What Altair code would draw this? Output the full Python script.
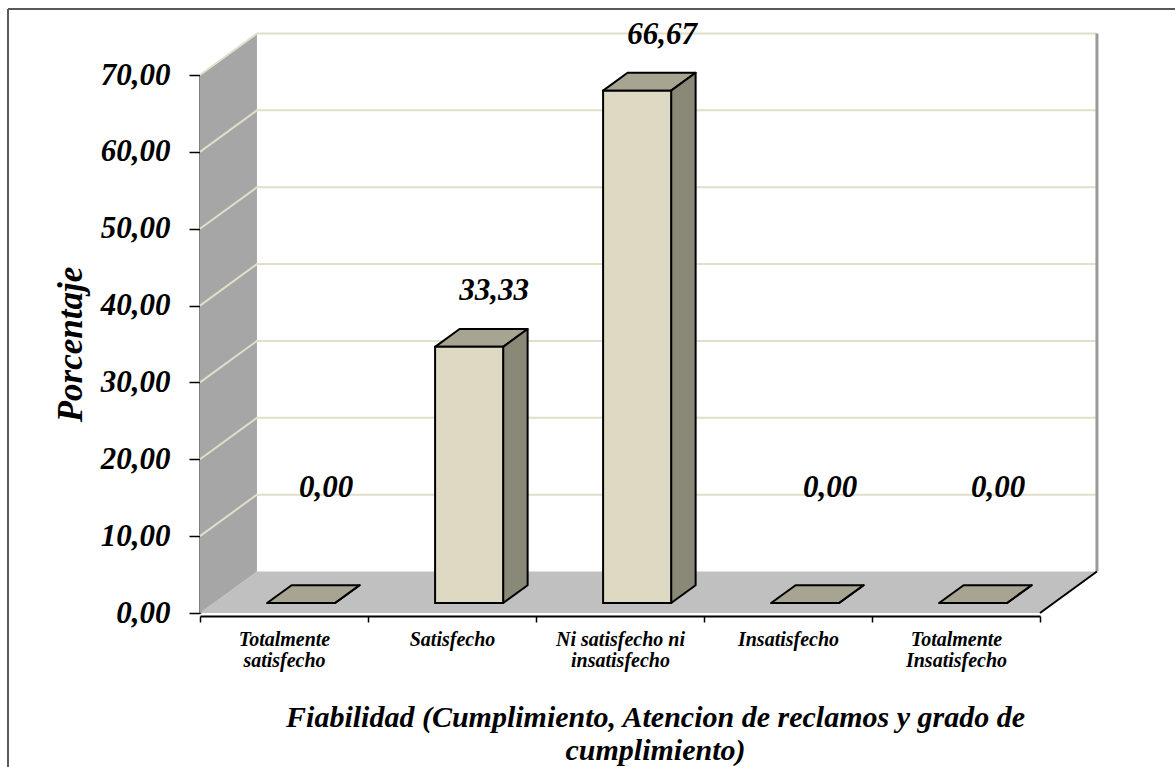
import json
import textwrap

import altair as alt
import pandas as pd

# ---- data -----------------------------------------------------------------
categories = [
    "Totalmente satisfecho",
    "Satisfecho",
    "Ni satisfecho ni insatisfecho",
    "Insatisfecho",
    "Totalmente Insatisfecho",
]
values = [0.00, 33.33, 66.67, 0.00, 0.00]
y_ticks = [0, 10, 20, 30, 40, 50, 60, 70]
x_title = ["Fiabilidad (Cumplimiento, Atencion de reclamos y grado de", "cumplimiento)"]
y_title = "Porcentaje"

# ---- oblique projection used for the 3-D look (data units) -------------------
FLOOR_DX, FLOOR_DY = 0.339, 5.4      # full depth of the floor / walls
BAR_FRONT, BAR_BACK = 0.24, 0.67     # depth fractions of the bar faces
BAR_W = 0.405                        # bar width in category units
BAR_OFFSET = 0.318                   # bar left edge inside its category

FONT = "Liberation Serif"
FRONT_FILL = "#DDD9C3"
SIDE_FILL = "#8A8978"
TOP_FILL = "#A7A591"
WALL_FILL = "#A6A6A6"
FLOOR_FILL = "#C0C0C0"
GRID_COLOR = "#E1DECA"

n = len(categories)
y_max = y_ticks[-1]

XS = alt.Scale(domain=[0, n], nice=False, zero=False)
YS = alt.Scale(domain=[0, y_max], nice=False, zero=False)

wrapped = [textwrap.wrap(c, 16) for c in categories]

XA = alt.Axis(
    values=list(range(n + 1)),
    labelExpr=f"{json.dumps(wrapped)}[datum.value] || ''",
    labelOffset=84,
    labelFont=FONT, labelFontSize=20, labelFontStyle="italic", labelFontWeight="bold",
    labelColor="black", labelLineHeight=21, labelPadding=7,
    labelAlign="center", labelBaseline="top",
    labelOverlap=False, labelBound=False, labelFlush=False,
    tickSize=6, tickColor="black", tickWidth=1.5,
    domainColor="black", domainWidth=2, offset=3, grid=False,
    title=x_title, titleFont=FONT, titleFontSize=30, titleFontStyle="italic",
    titleFontWeight="bold", titleColor="black", titleLineHeight=33,
    titleX=455, titleY=110, titleAlign="center", titleBaseline="alphabetic",
)
YA = alt.Axis(
    values=y_ticks,
    labelExpr="replace(format(datum.value, '.2f'), '.', ',')",
    labelFont=FONT, labelFontSize=31, labelFontStyle="italic", labelFontWeight="bold",
    labelColor="black", labelPadding=19,
    tickSize=11, tickColor="black", tickWidth=1.5,
    domainColor="black", domainWidth=2, grid=False,
    title=y_title, titleFont=FONT, titleFontSize=35, titleFontStyle="italic",
    titleFontWeight="bold", titleColor="black",
    titleX=-130, titleY=269, titleAngle=270, titleAlign="center", titleBaseline="middle",
)


def X(field):
    return alt.X(field, type="quantitative", scale=XS, axis=XA)


def Y(field):
    return alt.Y(field, type="quantitative", scale=YS, axis=YA)


# ---- geometry derived from the values -------------------------------------
bars = pd.DataFrame({"cat": categories, "i": range(n), "value": values})
bars["fx0"] = bars["i"] + BAR_OFFSET + BAR_FRONT * FLOOR_DX
bars["fx1"] = bars["fx0"] + BAR_W
bars["fy0"] = BAR_FRONT * FLOOR_DY
bars["fy1"] = bars["fy0"] + bars["value"]
bars["bx0"] = bars["i"] + BAR_OFFSET + BAR_BACK * FLOOR_DX
bars["bx1"] = bars["bx0"] + BAR_W
bars["by0"] = BAR_BACK * FLOOR_DY
bars["by1"] = bars["by0"] + bars["value"]
bars["label"] = bars["value"].map(lambda v: f"{v:.2f}".replace(".", ","))
bars["lx"] = bars["i"] + 0.75
bars["ly"] = bars["by1"] + bars["value"].map(lambda v: 3.8 if v > 0 else 11.5)

top_faces = pd.concat([
    pd.DataFrame({"cat": bars["cat"], "yy": bars["fy1"], "xa": bars["fx0"], "xb": bars["fx1"]}),
    pd.DataFrame({"cat": bars["cat"], "yy": bars["by1"], "xa": bars["bx0"], "xb": bars["bx1"]}),
])
side_faces = pd.concat([
    pd.DataFrame({"cat": bars["cat"], "xx": bars["fx1"], "ya": bars["fy0"], "yb": bars["fy1"]}),
    pd.DataFrame({"cat": bars["cat"], "xx": bars["bx1"], "ya": bars["by0"], "yb": bars["by1"]}),
])

floor = pd.DataFrame({"yy": [0, FLOOR_DY], "xa": [0, FLOOR_DX], "xb": [n, n + FLOOR_DX]})
side_wall = pd.DataFrame({"xx": [0, FLOOR_DX], "ya": [0, FLOOR_DY], "yb": [y_max, y_max + FLOOR_DY]})
grid = pd.DataFrame([
    {"v": v, "k": k, "gx": gx, "gy": gy}
    for v in y_ticks[1:]
    for k, (gx, gy) in enumerate([(0, v), (FLOOR_DX, v + FLOOR_DY), (n + FLOOR_DX, v + FLOOR_DY)])
])
back_edge = pd.DataFrame({"ex": [n + FLOOR_DX], "ey0": [FLOOR_DY], "ey1": [y_max + FLOOR_DY]})
floor_edge = pd.DataFrame({"ex": [n, n + FLOOR_DX], "ey": [0, FLOOR_DY]})

# ---- layers -----------------------------------------------------------------
floor_layer = alt.Chart(floor).mark_area(orient="horizontal", fill=FLOOR_FILL).encode(
    y=Y("yy"), x=X("xa"), x2=alt.X2("xb"))
wall_layer = alt.Chart(side_wall).mark_area(orient="vertical", fill=WALL_FILL).encode(
    x=X("xx"), y=Y("ya"), y2=alt.Y2("yb"))
grid_layer = alt.Chart(grid).mark_line(color=GRID_COLOR, strokeWidth=2).encode(
    x=X("gx"), y=Y("gy"), detail="v:N", order="k:Q")
back_layer = alt.Chart(back_edge).mark_rule(color="#9A9A9A", strokeWidth=3).encode(
    x=X("ex"), y=Y("ey0"), y2=alt.Y2("ey1"))
floor_edge_layer = alt.Chart(floor_edge).mark_line(color="black", strokeWidth=2).encode(
    x=X("ex"), y=Y("ey"))
top_layer = alt.Chart(top_faces).mark_area(
    orient="horizontal", fill=TOP_FILL, stroke="black", strokeWidth=2, strokeJoin="round"
).encode(y=Y("yy"), x=X("xa"), x2=alt.X2("xb"), detail="cat:N")
side_layer = alt.Chart(side_faces).mark_area(
    orient="vertical", fill=SIDE_FILL, stroke="black", strokeWidth=2, strokeJoin="round"
).encode(x=X("xx"), y=Y("ya"), y2=alt.Y2("yb"), detail="cat:N")
front_layer = alt.Chart(bars).mark_rect(
    fill=FRONT_FILL, stroke="black", strokeWidth=2
).encode(x=X("fx0"), x2=alt.X2("fx1"), y=Y("fy0"), y2=alt.Y2("fy1"))
label_layer = alt.Chart(bars).mark_text(
    font=FONT, fontSize=31, fontStyle="italic", fontWeight="bold", color="black",
    align="center", baseline="alphabetic"
).encode(x=X("lx"), y=Y("ly"), text="label:N")

# outer frame of the chart area
frame_v = alt.Chart(bars).mark_rule(color="#595959", strokeWidth=2).encode(
    x=alt.value(-192), y=alt.value(-66), y2=alt.value(720))
frame_h = alt.Chart(bars).mark_rule(color="#595959", strokeWidth=2).encode(
    x=alt.value(-192), x2=alt.value(1000), y=alt.value(-66))

chart = alt.layer(
    floor_layer, wall_layer, grid_layer, back_layer, floor_edge_layer,
    top_layer, side_layer, front_layer, label_layer, frame_v, frame_h,
).properties(
    width=840,
    height=538,
    autosize=alt.AutoSizeParams(type="none"),
    padding={"left": 200, "top": 75, "right": 135, "bottom": 154},
    background="white",
).configure_view(stroke=None)

chart.save("out.html", embed_options={"renderer": "svg", "actions": False})
